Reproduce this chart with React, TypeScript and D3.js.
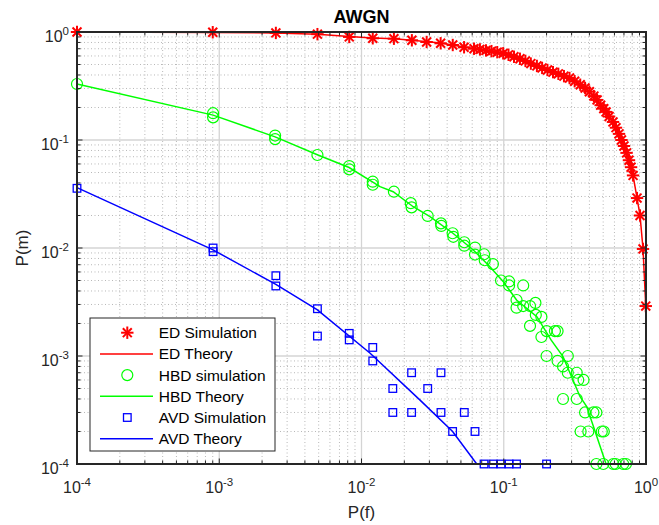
import React from 'react';
import * as d3 from 'd3';

// ---- data ----
const edSimX = [1e-4, 9.0e-4, 2.5e-3, 4.9e-3, 8.2e-3, 0.012, 0.0169, 0.0226, 0.0287, 0.036, 0.0438, 0.0526, 0.0618,
  0.068, 0.075, 0.082, 0.09, 0.099, 0.108, 0.118, 0.13, 0.142, 0.155, 0.171, 0.186, 0.203, 0.222, 0.242, 0.265,
  0.29, 0.315, 0.345, 0.373, 0.4, 0.43, 0.453, 0.48, 0.505, 0.524, 0.55, 0.586, 0.615, 0.646, 0.672, 0.7, 0.73,
  0.759, 0.785, 0.811, 0.865, 0.908, 0.953, 0.996];
const edSimY = [1.0, 0.995, 0.98, 0.955, 0.9, 0.875, 0.867, 0.838, 0.808, 0.786, 0.758, 0.722, 0.7,
  0.69, 0.675, 0.665, 0.65, 0.635, 0.615, 0.59, 0.565, 0.54, 0.51, 0.485, 0.465, 0.445, 0.425, 0.41, 0.39,
  0.375, 0.35, 0.325, 0.303, 0.28, 0.255, 0.235, 0.21, 0.195, 0.182, 0.165, 0.147, 0.13, 0.114, 0.1, 0.088, 0.076,
  0.065, 0.056, 0.047, 0.029, 0.02, 0.0098, 0.0029];

const edThX = [1e-4, 9e-4, 2.5e-3, 4.9e-3, 8.2e-3, 0.012, 0.017, 0.0226, 0.036, 0.0526, 0.08, 0.099, 0.13, 0.171,
  0.222, 0.292, 0.373, 0.453, 0.524, 0.586, 0.646, 0.7, 0.759, 0.811, 0.865, 0.908, 0.953, 0.996];
const edThY = [1.0, 0.99, 0.98, 0.955, 0.91, 0.88, 0.865, 0.84, 0.79, 0.725, 0.667, 0.635, 0.562, 0.484,
  0.426, 0.375, 0.303, 0.235, 0.182, 0.147, 0.114, 0.088, 0.065, 0.047, 0.029, 0.02, 0.0098, 0.0029];

const hbdSimX = [1e-4, 9.05e-4, 9.05e-4, 2.47e-3, 2.47e-3, 4.9e-3, 8.2e-3, 8.2e-3, 0.012, 0.012, 0.0169,
  0.0222, 0.0225, 0.0292, 0.0362, 0.0364, 0.0437, 0.0442, 0.0528, 0.0528, 0.0628, 0.0628, 0.0727, 0.0735,
  0.0839, 0.0957, 0.109, 0.109, 0.137, 0.123, 0.123, 0.137, 0.153, 0.167, 0.168, 0.184, 0.153, 0.2, 0.184,
  0.229, 0.239, 0.2, 0.282, 0.239, 0.261, 0.282, 0.326, 0.334, 0.364, 0.261, 0.326, 0.373, 0.427, 0.448,
  0.347, 0.393, 0.489, 0.505, 0.448, 0.501, 0.589, 0.612, 0.692, 0.723];
const hbdSimY = [0.33, 0.177, 0.162, 0.11, 0.102, 0.0726, 0.0574, 0.0535, 0.0411, 0.0385, 0.0332,
  0.026, 0.0238, 0.0198, 0.0169, 0.016, 0.0137, 0.0127, 0.0113, 0.0105, 0.0101, 0.0087, 0.00875, 0.0077,
  0.0071, 0.005, 0.0049, 0.0045, 0.0045, 0.0033, 0.0028, 0.0029, 0.0029, 0.0031, 0.0024, 0.0023, 0.0019,
  0.0017, 0.0015, 0.0017, 0.0017, 0.001, 0.001, 0.0009, 0.0008, 0.0007, 0.0007, 0.0006, 0.0006, 0.0004,
  0.0004, 0.0003, 0.0003, 0.0003, 0.0002, 0.0002, 0.0002, 0.0002, 1e-4, 1e-4, 1e-4, 1e-4, 1e-4, 1e-4];

const hbdThX = [1e-4, 9.05e-4, 2.47e-3, 4.94e-3, 8.18e-3, 0.0135, 0.0167, 0.0231, 0.0303, 0.0439, 0.0611,
  0.08, 0.0993, 0.123, 0.171, 0.215, 0.261, 0.292, 0.344, 0.383, 0.524];
const hbdThY = [0.33, 0.17, 0.107, 0.0726, 0.0556, 0.037, 0.0332, 0.0241, 0.0195, 0.0137, 0.00958,
  0.00671, 0.00488, 0.0033, 0.00231, 0.00141, 0.000986, 0.000697, 0.00042, 0.00034, 1e-4];

const avdSimX = [1e-4, 9.05e-4, 9.05e-4, 2.5e-3, 2.5e-3, 4.9e-3, 4.9e-3, 8.2e-3, 8.2e-3, 0.012, 0.012,
  0.0166, 0.0166, 0.0225, 0.0225, 0.0292, 0.0362, 0.0362, 0.0437, 0.0528, 0.0628,
  0.0727, 0.0839, 0.0957, 0.109, 0.123, 0.2];
const avdSimY = [0.0357, 0.01, 0.00925, 0.00554, 0.00445, 0.00274, 0.00153, 0.00162, 0.00141, 0.0012, 0.0009,
  0.0005, 0.0003, 0.0007, 0.0003, 0.0005, 0.0007, 0.0003, 0.0002, 0.0003, 0.0002,
  1e-4, 1e-4, 1e-4, 1e-4, 1e-4, 1e-4];

const avdThX = [1e-4, 9.05e-4, 2.5e-3, 4.9e-3, 0.0115, 0.0258, 0.0437, 0.0646];
const avdThY = [0.0362, 0.0096, 0.0046, 0.00267, 0.00106, 0.00039, 0.0002, 1e-4];

const decades = [-4, -3, -2, -1, 0];
const legendLabels = ['ED Simulation', 'ED Theory', 'HBD simulation', 'HBD Theory', 'AVD Simulation', 'AVD Theory'];

const RED = '#ff0000', GREEN = '#00ff00', BLUE = '#0000ff', AX = '#262626';
const FONT = '"Liberation Sans", Arial, Helvetica, sans-serif';

const W = 659, H = 525;
const m = { left: 77, right: 13, top: 32, bottom: 61 };

function Star({ x, y, c }: { x: number; y: number; c: string }) {
  const r = 6.2, d = r * 0.72;
  return (
    <g stroke={c} strokeWidth={2}>
      <line x1={x - r} y1={y} x2={x + r} y2={y} />
      <line x1={x} y1={y - r} x2={x} y2={y + r} />
      <line x1={x - d} y1={y - d} x2={x + d} y2={y + d} />
      <line x1={x - d} y1={y + d} x2={x + d} y2={y - d} />
    </g>
  );
}

export default function App() {
  const x = d3.scaleLog().domain([1e-4, 1]).range([m.left, W - m.right]);
  const y = d3.scaleLog().domain([1e-4, 1]).range([H - m.bottom, m.top]);
  const x0 = m.left, x1 = W - m.right, y0 = H - m.bottom, y1 = m.top;

  const minors: number[] = [];
  decades.slice(0, 4).forEach(k => { for (let i = 2; i <= 9; i++) minors.push(i * Math.pow(10, k)); });

  // line through paired x/y arrays
  const path = (xs: number[], ys: number[]) =>
    d3.line<number>().x(d => x(xs[d])).y(d => y(ys[d]))(d3.range(xs.length)) || '';

  const legY = d3.range(6).map(i => 332.7 + i * 21.2);

  return (
    <svg width={W} height={H} style={{ position: 'absolute', left: 0, top: 0, background: '#fff' }}
      fontFamily={FONT}>
      <rect x={0} y={0} width={W} height={H} fill="#fff" />
      {/* minor grid */}
      <g stroke="#b8b8b8" strokeWidth={1} strokeDasharray="1 2.5">
        {minors.map(v => <line key={'mx' + v} x1={x(v)} x2={x(v)} y1={y0} y2={y1} />)}
        {minors.map(v => <line key={'my' + v} x1={x0} x2={x1} y1={y(v)} y2={y(v)} />)}
      </g>
      {/* major grid */}
      <g stroke="#d4d4d4" strokeWidth={1.3}>
        {decades.slice(1, 4).map(k => <line key={'gx' + k} x1={x(10 ** k)} x2={x(10 ** k)} y1={y0} y2={y1} />)}
        {decades.slice(1, 4).map(k => <line key={'gy' + k} x1={x0} x2={x1} y1={y(10 ** k)} y2={y(10 ** k)} />)}
      </g>

      {/* theory lines */}
      <path d={path(edThX, edThY)} fill="none" stroke={RED} strokeWidth={1.5} />
      <path d={path(hbdThX, hbdThY)} fill="none" stroke={GREEN} strokeWidth={1.5} />
      <path d={path(avdThX, avdThY)} fill="none" stroke={BLUE} strokeWidth={1.5} />

      {/* simulation markers */}
      {hbdSimX.map((v, i) => (
        <circle key={'h' + i} cx={x(v)} cy={y(hbdSimY[i])} r={5.5} fill="none" stroke={GREEN} strokeWidth={1.2} />
      ))}
      {avdSimX.map((v, i) => (
        <rect key={'a' + i} x={x(v) - 3.8} y={y(avdSimY[i]) - 3.8} width={7.6} height={7.6} fill="none" stroke={BLUE} strokeWidth={1.3} />
      ))}
      {edSimX.map((v, i) => <Star key={'e' + i} x={x(v)} y={y(edSimY[i])} c={RED} />)}

      {/* axes box and ticks */}
      <g stroke={AX} strokeWidth={1}>
        {decades.map(k => (
          <g key={'t' + k}>
            <line x1={x(10 ** k)} x2={x(10 ** k)} y1={y0} y2={y0 - 5.5} />
            <line x1={x(10 ** k)} x2={x(10 ** k)} y1={y1} y2={y1 + 5.5} />
            <line x1={x0} x2={x0 + 5.5} y1={y(10 ** k)} y2={y(10 ** k)} />
            <line x1={x1} x2={x1 - 5.5} y1={y(10 ** k)} y2={y(10 ** k)} />
          </g>
        ))}
        {minors.map(v => (
          <g key={'mt' + v}>
            <line x1={x(v)} x2={x(v)} y1={y0} y2={y0 - 3.5} />
            <line x1={x(v)} x2={x(v)} y1={y1} y2={y1 + 3.5} />
            <line x1={x0} x2={x0 + 3.5} y1={y(v)} y2={y(v)} />
            <line x1={x1} x2={x1 - 3.5} y1={y(v)} y2={y(v)} />
          </g>
        ))}
      </g>
      <rect x={x0} y={y1} width={x1 - x0} height={y0 - y1} fill="none" stroke={AX} strokeWidth={2} />

      {/* tick labels */}
      <g fill={AX} fontSize={16}>
        {decades.map(k => (
          <text key={'xl' + k} x={x(10 ** k)} y={y0 + 29} textAnchor="middle">
            10<tspan dy={-7.5} fontSize={11.5}>{k}</tspan>
          </text>
        ))}
        {decades.map(k => (
          <text key={'yl' + k} x={69} y={y(10 ** k) + 10} textAnchor="end">
            10<tspan dy={-7.5} fontSize={11.5}>{k}</tspan>
          </text>
        ))}
      </g>

      {/* title and axis labels */}
      <text x={(x0 + x1) / 2} y={22.5} textAnchor="middle" fontSize={18} fontWeight="bold" fill="#000">AWGN</text>
      <text x={(x0 + x1) / 2} y={518} textAnchor="middle" fontSize={17} fill={AX}>P(f)</text>
      <text transform={`translate(28,${(y0 + y1) / 2}) rotate(-90)`} textAnchor="middle" fontSize={17} fill={AX}>P(m)</text>

      {/* legend */}
      <rect x={90} y={318} width={185} height={133} fill="#fff" stroke={AX} strokeWidth={1} />
      {legendLabels.map((lab, i) => {
        const cy = legY[i];
        const c = i < 2 ? RED : i < 4 ? GREEN : BLUE;
        let mark: React.ReactNode;
        if (i % 2 === 1) mark = <line x1={100} x2={153} y1={cy} y2={cy} stroke={c} strokeWidth={1.5} />;
        else if (i === 0) mark = <Star x={127.3} y={cy} c={c} />;
        else if (i === 2) mark = <circle cx={127.3} cy={cy} r={5.5} fill="none" stroke={c} strokeWidth={1.2} />;
        else mark = <rect x={127.3 - 3.8} y={cy - 3.8} width={7.6} height={7.6} fill="none" stroke={c} strokeWidth={1.3} />;
        return (
          <g key={lab}>
            {mark}
            <text x={158.7} y={cy + 5.5} fontSize={15.5} fill="#000">{lab}</text>
          </g>
        );
      })}
    </svg>
  );
}
